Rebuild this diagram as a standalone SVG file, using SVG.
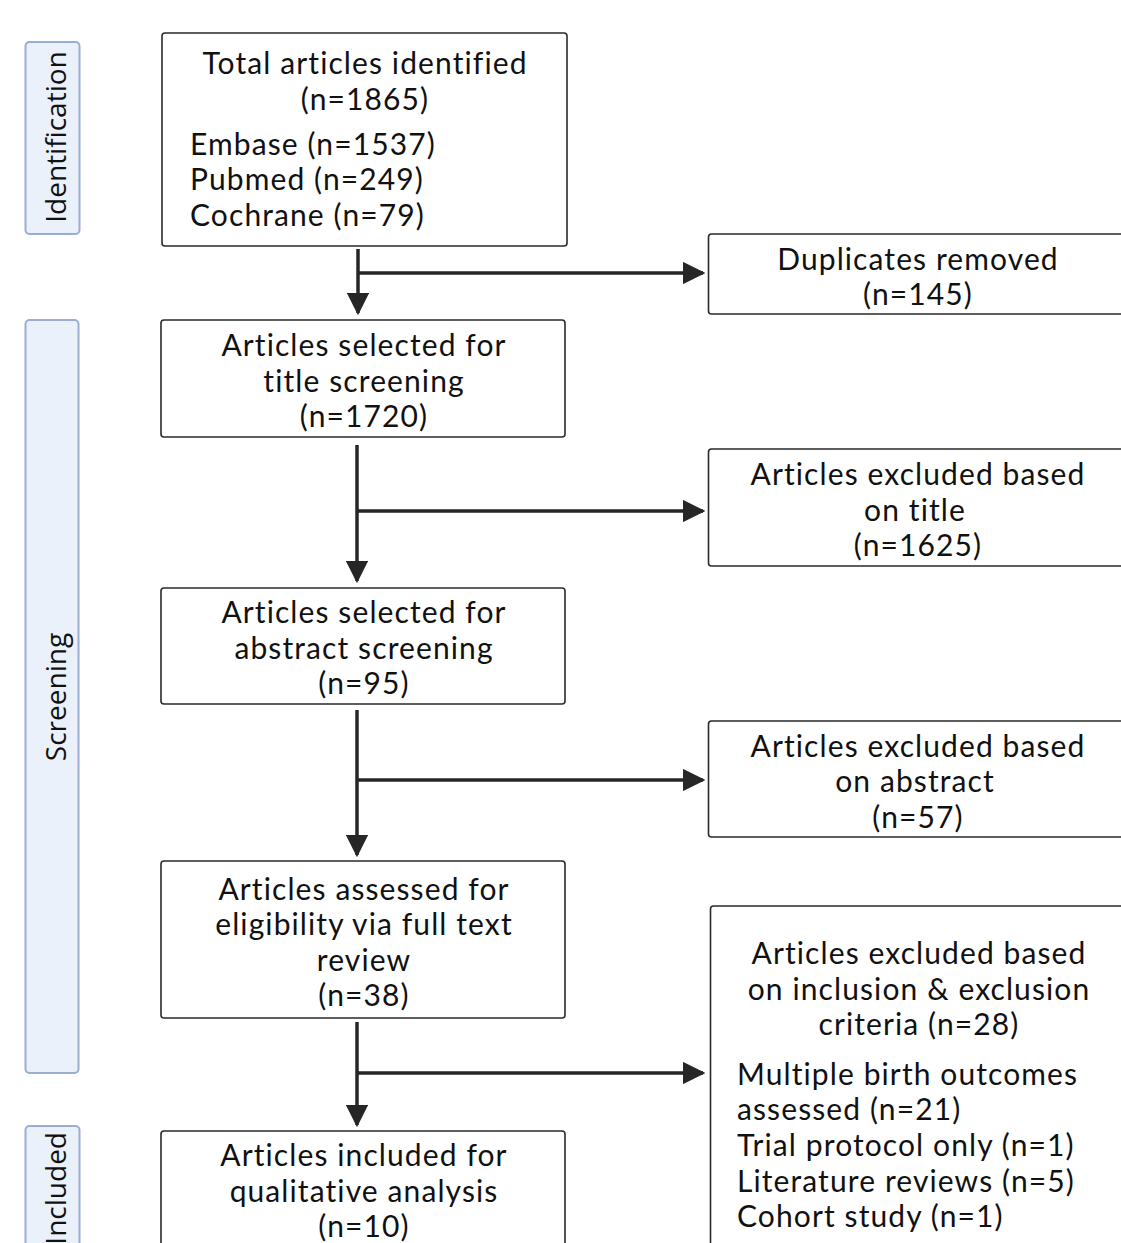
<svg xmlns="http://www.w3.org/2000/svg" width="1121" height="1243" viewBox="0 0 1121 1243">
<style>
.box{fill:#fff;stroke:#2a2a2a;stroke-width:1.6}
.side{fill:#eaf1fa;stroke:#9badd3;stroke-width:2}
.t{font-family:Lato,"Open Sans",sans-serif;font-size:30px;letter-spacing:1.1px;fill:#111;text-anchor:middle}
.l{text-anchor:start}
.s{font-family:"Open Sans","Noto Sans",sans-serif;font-size:28px;fill:#111;text-anchor:middle}
.c{stroke:#262626;stroke-width:3.5;fill:none}
</style>
<defs>
<marker id="ah" viewBox="0 0 10 10" refX="9" refY="5" markerWidth="6.5" markerHeight="6.5" markerUnits="strokeWidth" orient="auto">
<path d="M0,0 L10,5 L0,10 Z" fill="#262626"/>
</marker>
</defs>
<g id="stage-identification">
<rect class="side" x="25.5" y="42" width="54" height="192" rx="4"/>
<text class="s" transform="translate(66,137) rotate(-90)">Identification</text>
</g>
<g id="stage-screening">
<rect class="side" x="25.5" y="320" width="53" height="753" rx="4"/>
<text class="s" transform="translate(66,697) rotate(-90)">Screening</text>
</g>
<g id="stage-included">
<rect class="side" x="25.5" y="1126" width="54" height="130" rx="4"/>
<text class="s" style="text-anchor:end" transform="translate(66,1132) rotate(-90)">Included</text>
</g>
<g id="connectors">
<line class="c" x1="358" y1="249" x2="358" y2="313" marker-end="url(#ah)"/>
<line class="c" x1="358" y1="273" x2="703" y2="273" marker-end="url(#ah)"/>
<line class="c" x1="357" y1="445" x2="357" y2="581" marker-end="url(#ah)"/>
<line class="c" x1="357" y1="511" x2="703" y2="511" marker-end="url(#ah)"/>
<line class="c" x1="357" y1="710" x2="357" y2="855" marker-end="url(#ah)"/>
<line class="c" x1="357" y1="780" x2="703" y2="780" marker-end="url(#ah)"/>
<line class="c" x1="357" y1="1022" x2="357" y2="1125" marker-end="url(#ah)"/>
<line class="c" x1="357" y1="1073" x2="703" y2="1073" marker-end="url(#ah)"/>
</g>
<g id="node-identified">
<rect class="box" x="162" y="33" width="405" height="213" rx="3"/>
<text class="t" x="365" y="74">Total articles identified</text>
<text class="t" x="365" y="110">(n=1865)</text>
<text class="t l" x="190" y="155">Embase (n=1537)</text>
<text class="t l" x="190" y="190">Pubmed (n=249)</text>
<text class="t l" x="190" y="226">Cochrane (n=79)</text>
</g>
<g id="node-duplicates">
<rect class="box" x="708.5" y="234" width="420" height="80" rx="3"/>
<text class="t" x="918" y="270">Duplicates removed</text>
<text class="t" x="918" y="305">(n=145)</text>
</g>
<g id="node-title">
<rect class="box" x="161" y="320" width="404" height="117" rx="3"/>
<text class="t" x="364" y="356">Articles selected for</text>
<text class="t" x="364" y="392">title screening</text>
<text class="t" x="364" y="427">(n=1720)</text>
</g>
<g id="node-excl-title">
<rect class="box" x="708.5" y="449" width="420" height="117" rx="3"/>
<text class="t" x="918" y="485">Articles excluded based</text>
<text class="t" x="915" y="521">on title</text>
<text class="t" x="918" y="556">(n=1625)</text>
</g>
<g id="node-abstract">
<rect class="box" x="161" y="588" width="404" height="116" rx="3"/>
<text class="t" x="364" y="623">Articles selected for</text>
<text class="t" x="364" y="659">abstract screening</text>
<text class="t" x="364" y="694">(n=95)</text>
</g>
<g id="node-excl-abstract">
<rect class="box" x="708.5" y="721" width="420" height="116" rx="3"/>
<text class="t" x="918" y="757">Articles excluded based</text>
<text class="t" x="915" y="792">on abstract</text>
<text class="t" x="918" y="828">(n=57)</text>
</g>
<g id="node-fulltext">
<rect class="box" x="161" y="861" width="404" height="157" rx="3"/>
<text class="t" x="364" y="900">Articles assessed for</text>
<text class="t" x="364" y="935">eligibility via full text</text>
<text class="t" x="364" y="971">review</text>
<text class="t" x="364" y="1006">(n=38)</text>
</g>
<g id="node-excl-criteria">
<rect class="box" x="710.5" y="906" width="420" height="350" rx="3"/>
<text class="t" x="919" y="964">Articles excluded based</text>
<text class="t" x="919" y="1000">on inclusion &amp; exclusion</text>
<text class="t" x="919" y="1035">criteria (n=28)</text>
<text class="t l" x="737" y="1085">Multiple birth outcomes</text>
<text class="t l" x="737" y="1120">assessed (n=21)</text>
<text class="t l" x="737" y="1156">Trial protocol only (n=1)</text>
<text class="t l" x="737" y="1192">Literature reviews (n=5)</text>
<text class="t l" x="737" y="1227">Cohort study (n=1)</text>
</g>
<g id="node-included">
<rect class="box" x="161" y="1131" width="404" height="130" rx="3"/>
<text class="t" x="364" y="1166">Articles included for</text>
<text class="t" x="364" y="1202">qualitative analysis</text>
<text class="t" x="364" y="1237">(n=10)</text>
</g>
</svg>
